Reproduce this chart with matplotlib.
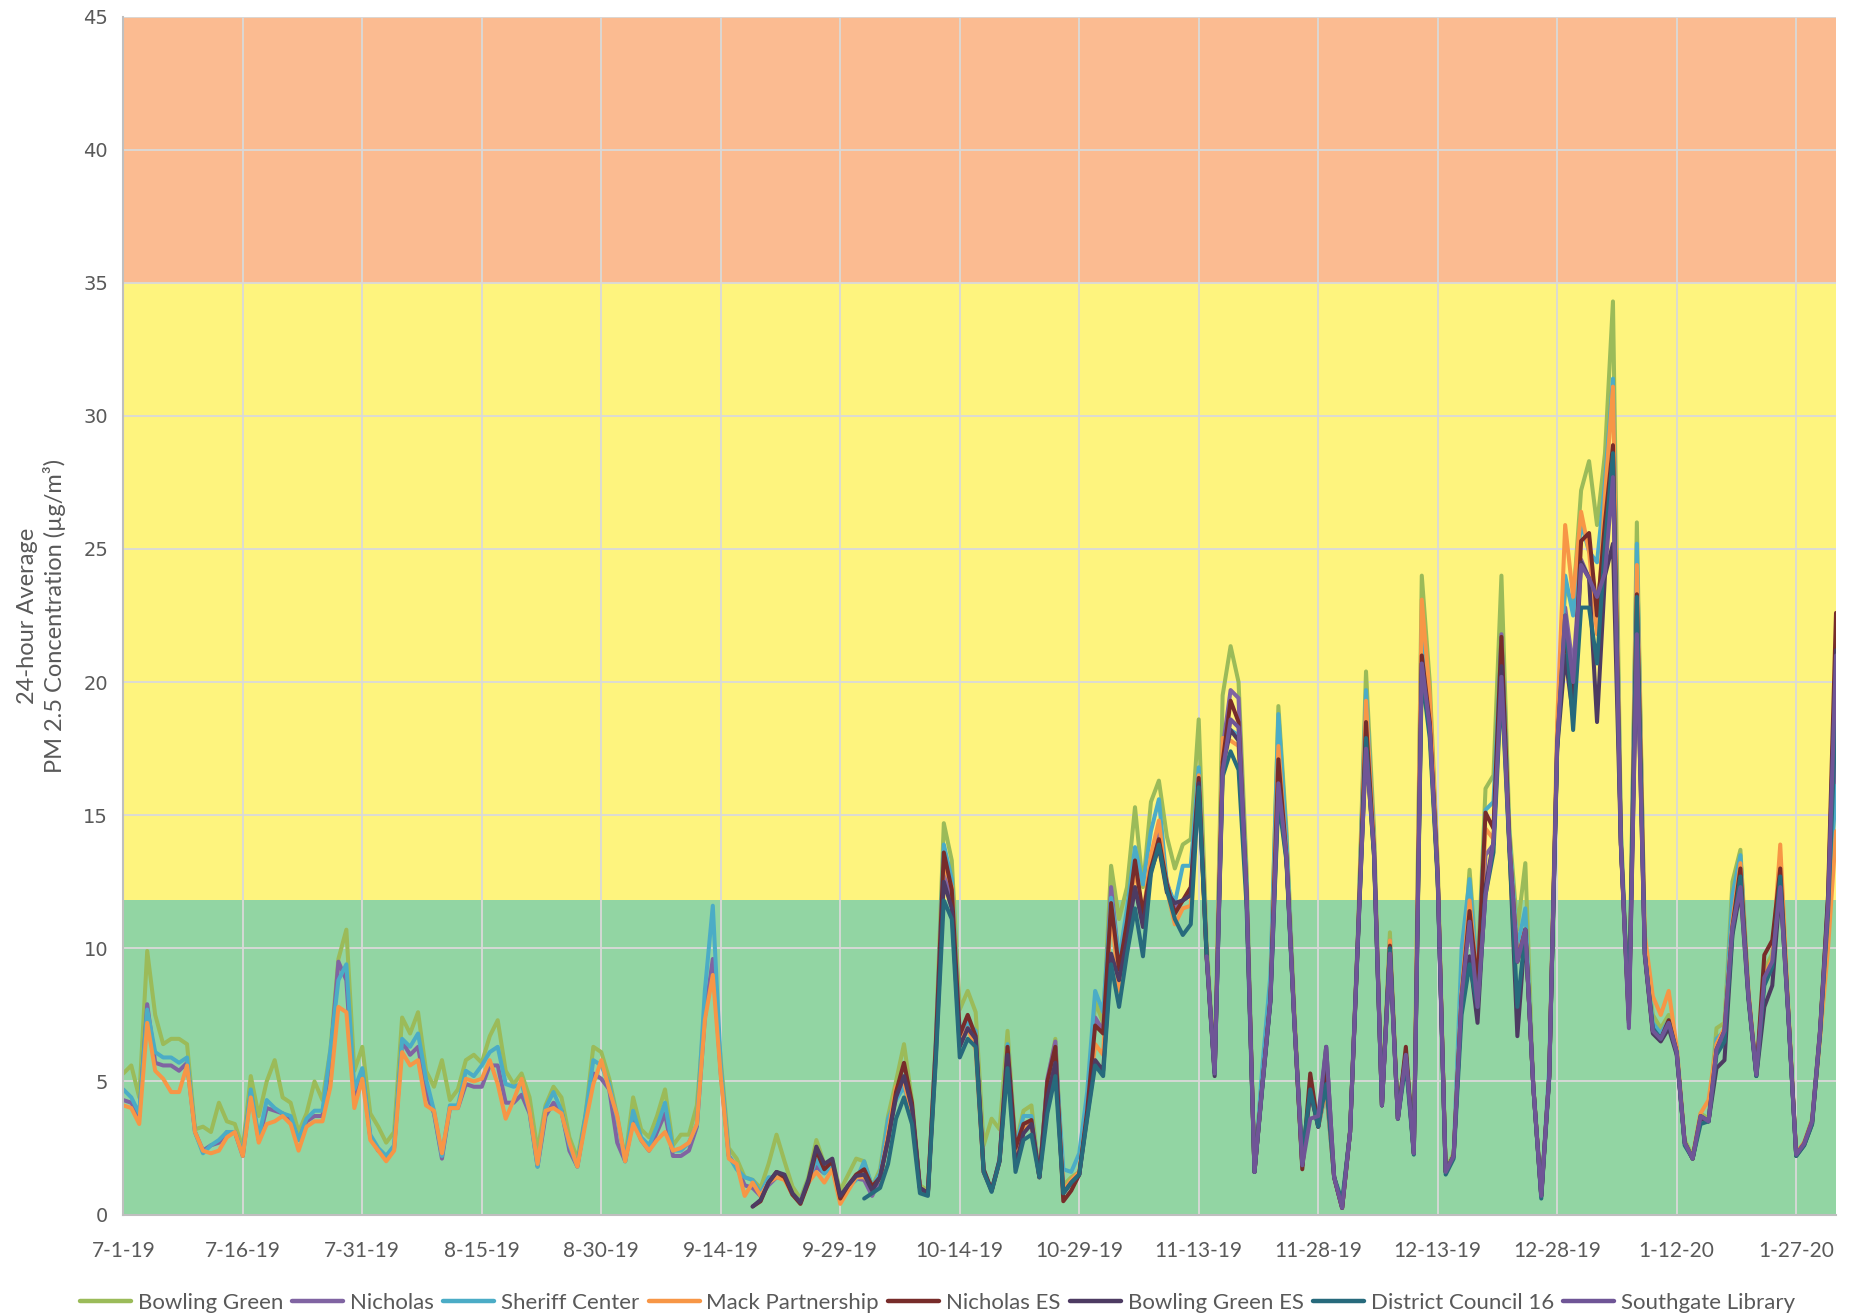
import numpy as np
import pandas as pd
import matplotlib
matplotlib.use("Agg")
import matplotlib.pyplot as plt
import matplotlib.dates as mdates
from matplotlib.ticker import FuncFormatter

# ---------------- data ----------------
start_date = "2019-07-01"
n_days = 216

bowling_green = [
    5.3, 5.6, 4.4, 9.9, 7.5, 6.4, 6.6, 6.6, 6.4, 3.2,
    3.3, 3.1, 4.2, 3.5, 3.4, 2.5, 5.2, 3.7, 5.0, 5.8,
    4.4, 4.2, 3.1, 3.8, 5.0, 4.3, 6.2, 9.6, 10.7, 5.4,
    6.3, 3.8, 3.3, 2.7, 3.1, 7.4, 6.8, 7.6, 5.4, 4.8,
    5.8, 4.3, 4.7, 5.8, 6.0, 5.7, 6.7, 7.3, 5.4, 4.9,
    5.3, 4.4, 2.4, 4.1, 4.8, 4.4, 2.9, 2.1, 3.7, 6.3,
    6.1, 5.1, 3.7, 2.1, 4.4, 3.2, 2.9, 3.7, 4.7, 2.6,
    3.0, 3.0, 4.1, 7.7, 9.2, 5.8, 2.5, 2.1, 1.4,
    1.3, 1.0, 1.9, 3.0, 2.0, 1.05, 0.6, 1.4, 2.8, 1.9, 2.05,
    0.9, 1.5, 2.1, 2.0, 1.05, 1.7, 3.7, 5.0, 6.4, 4.3,
    1.1, 0.9, 6.6, 14.7, 13.3, 7.7, 8.4, 7.6, 2.6, 3.6,
    3.2, 6.9, 2.6, 3.9, 4.1, 1.4, 5.0, 6.6, 1.1, 1.4,
    1.6, 3.9, 8.0, 7.2, 13.1, 11.1, 12.3, 15.3, 12.3, 15.5,
    16.3, 14.2, 13.0, 13.9, 14.1, 18.6, 10.2, 5.5, 19.5, 21.35,
    20.0, 13.0, 1.8, 5.3, 8.5, 19.1, 14.5, 7.8, 1.9, 4.8,
    3.3, 4.8, 1.4, 0.3, 3.2, 10.8, 20.4, 14.5, 4.2, 10.6,
    3.7, 6.1, 2.4, 24.0, 20.0, 13.2, 1.7, 2.3, 8.8, 12.95,
    9.0, 16.0, 16.5, 24.0, 14.5, 10.7, 13.2, 4.9, 0.8, 5.3,
    18.0, 23.5, 23.0, 27.2, 28.3, 25.9, 28.6, 34.3, 14.5, 7.3,
    26.0, 10.0, 7.5, 7.0, 7.5, 6.3, 2.8, 2.2, 3.8, 3.6,
    7.0, 7.2, 12.5, 13.7, 8.4, 5.3, 9.2, 9.8, 12.5, 7.7,
    2.3, 2.7, 3.6, 7.0, 11.5, 18.2,
]

nicholas = [
    4.3, 4.2, 3.7, 7.9, 5.7, 5.6, 5.6, 5.4, 5.7, 3.1,
    2.4, 2.6, 2.7, 3.1, 3.1, 2.2, 4.6, 2.8, 4.0, 3.9,
    3.8, 3.6, 2.8, 3.5, 3.7, 3.7, 5.9, 9.5, 8.8, 4.3,
    5.4, 2.9, 2.4, 2.2, 2.5, 6.5, 6.0, 6.3, 4.6, 3.8,
    2.1, 4.0, 4.0, 4.9, 4.8, 4.8, 5.6, 5.6, 4.2, 4.2,
    4.5, 3.8, 1.8, 3.7, 4.2, 3.9, 2.4, 1.8, 3.6, 5.3,
    5.1, 4.7, 2.7, 2.0, 3.6, 2.8, 2.4, 3.1, 3.8, 2.2,
    2.2, 2.4, 3.3, 7.4, 9.6, 5.3, 2.2, 1.8, 1.1,
    1.0, 0.7, 1.1, 1.4, 1.4, 0.75, 0.5, 1.2, 1.8, 1.55, 1.9,
    0.55, 1.05, 1.35, 1.3, 0.7, 1.3, 3.05, 4.4, 5.1, 4.0,
    1.0, 0.8, 6.3, 13.0, 11.8, 6.7, 7.0, 6.6, 1.6, 0.9,
    2.05, 6.3, 2.2, 3.1, 3.5, 1.4, 5.1, 6.5, 0.8, 1.2,
    1.5, 4.0, 7.4, 6.9, 12.3, 9.5, 11.2, 13.3, 11.0, 13.3,
    14.3, 12.5, 11.5, 11.8, 12.0, 16.5, 9.7, 5.35, 17.5, 19.7,
    19.4, 12.1, 1.6, 4.9, 8.1, 16.4, 13.5, 7.3, 1.85, 4.7,
    3.3, 4.7, 1.4, 0.25, 3.1, 10.5, 18.0, 13.7, 4.1, 9.9,
    3.6, 6.0, 2.3, 21.5, 18.6, 12.7, 1.6, 2.2, 8.2, 11.8,
    8.6, 13.5, 13.9, 21.8, 13.9, 9.5, 10.7, 4.8, 0.7, 5.2,
    17.7, 22.8, 20.5, 24.6, 23.9, 23.0, 25.0, 28.0, 13.9, 7.3,
    22.5, 9.8, 6.9, 6.6, 7.2, 6.1, 2.7, 2.1, 3.7, 3.5,
    6.2, 6.9, 10.8, 12.8, 8.25, 5.25, 8.9, 9.5, 12.4, 7.6,
    2.25, 2.66, 3.5, 6.9, 11.5, 17.9,
]

sheriff_center = [
    4.7, 4.4, 3.8, 7.7, 6.1, 5.9, 5.9, 5.7, 5.9, 3.1,
    2.3, 2.6, 2.8, 3.1, 3.1, 2.3, 4.7, 2.9, 4.3, 4.0,
    3.8, 3.7, 2.8, 3.6, 3.9, 3.9, 6.2, 8.8, 9.4, 4.7,
    5.5, 3.0, 2.5, 2.2, 2.6, 6.6, 6.3, 6.8, 5.1, 3.9,
    2.2, 4.1, 4.1, 5.4, 5.2, 5.6, 6.1, 6.3, 4.9, 4.8,
    4.9, 3.9, 1.8, 4.0, 4.6, 3.9, 2.6, 1.8, 3.7, 5.8,
    5.6, 4.9, 3.6, 2.0, 3.9, 2.9, 2.6, 3.3, 4.2, 2.4,
    2.4, 2.7, 3.4, 8.4, 11.6, 5.6, 2.2, 1.7, 1.4,
    1.3, 0.8, 1.4, 1.4, 1.4, 0.75, 0.5, 1.3, 2.05, 1.55, 1.8,
    0.5, 1.05, 1.3, 2.0, 1.05, 1.55, 3.6, 4.3, 4.8, 3.8,
    1.0, 0.8, 6.5, 13.9, 12.6, 6.9, 7.2, 6.9, 1.7, 0.9,
    2.1, 6.4, 2.5, 3.7, 3.7, 1.4, 4.8, 6.1, 1.7, 1.6,
    2.3, 4.6, 8.4, 7.6, 11.9, 9.6, 11.5, 13.8, 12.4, 14.4,
    15.6, 12.4, 11.7, 13.1, 13.1, 16.8, 9.8, 5.4, 17.8, 18.2,
    18.0, 12.5, 1.6, 5.6, 9.0, 18.8, 14.2, 7.3, 1.85, 4.7,
    3.3, 4.7, 1.4, 0.25, 3.1, 10.6, 19.7, 14.0, 4.1, 10.3,
    3.6, 6.0, 2.3, 22.0, 19.0, 12.7, 1.6, 2.2, 10.0, 12.6,
    8.8, 15.2, 15.5, 21.5, 14.2, 10.0, 11.5, 4.8, 0.7, 5.5,
    17.8, 24.0, 22.5, 26.0, 24.9, 24.5, 27.5, 31.4, 14.2, 7.3,
    25.2, 9.9, 7.2, 6.8, 7.3, 6.2, 2.7, 2.1, 3.7, 3.5,
    6.6, 6.9, 12.0, 13.5, 8.3, 5.25, 8.9, 9.5, 12.6, 7.6,
    2.25, 2.66, 3.5, 6.9, 11.2, 16.1,
]

mack_partnership = [
    4.1, 4.0, 3.4, 7.2, 5.4, 5.1, 4.6, 4.6, 5.6, 3.1,
    2.4, 2.3, 2.4, 2.9, 3.1, 2.2, 4.4, 2.7, 3.4, 3.5,
    3.7, 3.4, 2.4, 3.3, 3.5, 3.5, 4.8, 7.8, 7.6, 4.0,
    5.1, 2.8, 2.4, 2.0, 2.4, 6.1, 5.6, 5.8, 4.1, 3.9,
    2.3, 4.0, 4.0, 5.1, 5.0, 5.1, 5.8, 4.9, 3.6, 4.3,
    5.1, 3.9, 1.9, 3.9, 4.0, 3.8, 2.7, 1.8, 3.4, 4.9,
    5.8, 4.7, 3.7, 2.0, 3.4, 2.8, 2.4, 2.8, 3.1, 2.4,
    2.5, 2.7, 3.4, 7.3, 9.0, 5.2, 2.1, 1.9, 0.7,
    1.2, 0.7, 1.2, 1.4, 1.3, 0.75, 0.45, 1.2, 1.6, 1.2, 1.7,
    0.4, 0.9, 1.4, 1.4, 1.1, 1.3, 3.05, 4.8, 5.0, 3.7,
    1.0, 0.8, 6.2, 13.2, 12.3, 6.5, 7.0, 6.2, 1.6, 0.9,
    2.0, 6.2, 2.2, 3.2, 3.4, 1.4, 4.6, 5.9, 0.9, 1.3,
    1.6, 3.8, 6.4, 6.0, 11.5, 8.4, 10.8, 13.0, 11.2, 13.5,
    14.8, 12.2, 10.9, 11.5, 11.6, 16.5, 9.7, 5.35, 17.9, 17.8,
    17.6, 12.1, 1.6, 4.9, 8.1, 17.6, 13.5, 7.3, 1.85, 4.7,
    3.3, 4.7, 1.4, 0.25, 3.1, 10.5, 19.3, 13.9, 4.1, 10.3,
    3.6, 6.0, 2.3, 23.1, 19.5, 12.9, 1.6, 2.2, 8.4, 11.8,
    8.6, 14.5, 14.1, 21.0, 13.9, 9.6, 10.7, 4.8, 0.7, 5.2,
    18.5, 25.9, 23.2, 26.4, 24.9, 21.8, 27.0, 31.1, 14.0, 7.3,
    24.4, 10.5, 8.2, 7.5, 8.4, 6.3, 2.7, 2.1, 3.8, 4.3,
    6.4, 7.0, 11.0, 13.2, 8.4, 5.3, 9.0, 9.6, 13.9, 7.8,
    2.3, 2.7, 3.5, 6.6, 10.0, 14.4,
]

nicholas_es = [None] * 79 + [
    0.3, 0.5, 1.2, 1.6, 1.4, 0.75, 0.4, 1.2, 2.4, 1.7, 2.0,
    0.6, 1.1, 1.5, 1.7, 1.05, 1.4, 2.8, 4.6, 5.7, 4.2,
    1.0, 0.8, 6.4, 13.6, 12.2, 6.75, 7.5, 6.7, 1.7, 0.9,
    2.05, 6.3, 2.5, 3.4, 3.55, 1.4, 5.0, 6.3, 0.5, 0.9,
    1.5, 3.9, 7.1, 6.8, 11.7, 9.2, 11.0, 13.3, 11.3, 13.0,
    14.1, 12.4, 11.3, 11.8, 12.3, 16.4, 9.7, 5.35, 17.0, 19.3,
    18.5, 12.1, 1.6, 4.9, 8.1, 17.1, 13.5, 7.3, 1.7, 5.3,
    3.3, 5.3, 1.4, 0.25, 3.1, 10.5, 18.5, 13.7, 4.1, 10.1,
    3.6, 6.3, 2.3, 21.0, 18.5, 12.7, 1.6, 2.2, 8.2, 11.4,
    8.6, 15.1, 14.5, 21.7, 13.9, 9.5, 10.7, 4.8, 0.7, 5.2,
    17.7, 22.0, 19.0, 25.3, 25.6, 22.5, 26.0, 28.9, 13.9, 7.3,
    23.3, 9.8, 6.9, 6.6, 7.3, 6.1, 2.7, 2.1, 3.7, 3.5,
    6.2, 6.9, 10.8, 13.0, 8.25, 5.25, 9.75, 10.3, 13.0, 7.6,
    2.25, 2.66, 3.5, 6.9, 12.0, 22.6,
]

bowling_green_es = [None] * 79 + [
    0.3, 0.55, 1.2, 1.6, 1.5, 0.8, 0.45, 1.3, 2.55, 1.9, 2.1,
    0.7, 1.1, 1.45, 1.5, 0.9, 1.4, 2.8, 4.4, 5.2, 4.0,
    1.0, 0.8, 6.0, 12.5, 11.5, 6.3, 7.0, 6.6, 1.6, 0.9,
    2.0, 6.0, 1.8, 3.05, 3.4, 1.4, 4.4, 5.7, 0.8, 1.2,
    1.5, 3.7, 5.8, 5.4, 9.8, 8.8, 10.3, 12.3, 10.8, 12.9,
    13.8, 12.1, 11.7, 11.8, 12.0, 16.2, 9.6, 5.2, 16.8, 18.2,
    17.8, 12.0, 1.6, 4.9, 8.0, 16.0, 13.4, 7.3, 1.85, 4.6,
    3.3, 6.3, 1.4, 0.25, 3.1, 10.4, 17.6, 13.5, 4.1, 10.0,
    3.6, 6.0, 2.3, 20.7, 18.3, 12.6, 1.6, 2.2, 8.0, 9.7,
    7.2, 12.3, 14.0, 20.6, 13.8, 6.7, 10.7, 4.8, 0.7, 5.2,
    17.5, 21.0, 18.7, 24.5, 23.9, 18.5, 24.0, 25.2, 13.8, 7.2,
    22.0, 9.7, 6.8, 6.5, 7.0, 6.0, 2.7, 2.1, 3.6, 3.5,
    5.5, 5.8, 10.5, 12.2, 8.1, 5.2, 7.8, 8.6, 12.3, 7.5,
    2.2, 2.6, 3.4, 6.8, 11.8, 21.2,
]

district_council_16 = [None] * 93 + [
    0.6, 0.8, 1.0, 1.9, 3.6, 4.4, 3.4,
    0.8, 0.7, 5.8, 11.8, 11.1, 5.9, 6.6, 6.3, 1.6, 0.85,
    2.0, 5.5, 1.6, 2.8, 3.0, 1.4, 3.8, 5.2, 0.8, 1.2,
    1.5, 3.6, 5.6, 5.2, 9.4, 7.8, 9.8, 11.5, 9.7, 12.8,
    13.9, 12.2, 11.1, 10.5, 10.9, 16.05, 9.7, 5.3, 16.45, 17.4,
    16.7, 11.6, 1.6, 4.8, 8.0, 15.6, 13.3, 7.2, 2.2, 4.7,
    3.3, 4.9, 1.4, 0.5, 3.1, 10.4, 17.9, 13.5, 4.1, 10.0,
    3.6, 5.7, 2.25, 20.3, 17.9, 12.5, 1.5, 2.1, 7.5, 9.4,
    7.8, 12.0, 13.6, 19.9, 13.7, 7.8, 10.6, 4.8, 0.6, 5.1,
    17.5, 22.5, 18.2, 22.8, 22.8, 20.7, 25.2, 28.6, 13.9, 7.5,
    23.2, 9.8, 7.0, 6.6, 7.2, 6.1, 2.6, 2.1, 3.4, 3.5,
    6.0, 6.5, 10.6, 12.7, 8.2, 5.2, 8.6, 9.3, 12.7, 7.6,
    2.2, 2.6, 3.4, 6.8, 11.3, 18.9,
]

southgate_library = [None] * 136 + [
    9.7, 5.3, 16.6, 18.6,
    18.3, 12.1, 1.6, 4.9, 8.1, 16.2, 13.5, 7.3, 1.85, 3.6,
    3.7, 6.3, 1.4, 0.25, 3.1, 10.5, 17.5, 13.7, 4.1, 9.8,
    3.6, 6.0, 2.3, 20.7, 18.3, 12.7, 1.6, 2.2, 8.2, 11.0,
    7.8, 12.0, 14.0, 20.2, 13.9, 9.5, 10.7, 4.8, 0.7, 5.2,
    17.7, 22.5, 20.0, 24.4, 23.9, 23.2, 24.1, 27.7, 13.9, 7.0,
    21.8, 9.8, 6.9, 6.6, 7.2, 6.1, 2.7, 2.1, 3.7, 3.5,
    6.2, 6.9, 10.8, 12.3, 8.25, 5.25, 8.9, 9.5, 12.3, 7.6,
    2.25, 2.66, 3.5, 6.9, 11.6, 21.0,
]

series_names = ["Bowling Green", "Nicholas", "Sheriff Center", "Mack Partnership",
                "Nicholas ES", "Bowling Green ES", "District Council 16", "Southgate Library"]
series_values = [bowling_green, nicholas, sheriff_center, mack_partnership,
                 nicholas_es, bowling_green_es, district_council_16, southgate_library]
series_colors = ["#9BBB59", "#8064A2", "#4BACC6", "#F79646",
                 "#772C2A", "#4D3B62", "#276A7C", "#6F5596"]

# AQI bands (lower, upper)
band_limits = [(0, 11.8), (11.8, 35), (35, 45)]
band_colors = ["#92D5A3", "#FEF47E", "#FBBB91"]

y_ticks = [0, 5, 10, 15, 20, 25, 30, 35, 40, 45]

# ---------------- plot ----------------
dates = pd.date_range(start_date, periods=n_days, freq="D")

fig = plt.figure(figsize=(18.6, 13.15), dpi=100)
ax = fig.add_axes([0.0663, 0.0764, 0.9208, 0.911])

for (lo, hi), c in zip(band_limits, band_colors):
    ax.axhspan(lo, hi, color=c, zorder=0, lw=0)

tick_dates = dates[::15]
for t in y_ticks[1:]:
    ax.axhline(t, color="#D9D9D9", lw=1.3, zorder=1)
for d in tick_dates[1:]:
    ax.axvline(d, color="#D9D9D9", lw=1.3, zorder=1)

handles = []
for name, vals, col in zip(series_names, series_values, series_colors):
    arr = np.array([np.nan if v is None else v for v in vals], dtype=float)
    h, = ax.plot(dates, arr, color=col, lw=2.9, label=name, zorder=3,
                 solid_joinstyle="round", solid_capstyle="round")
    handles.append(h)

ax.set_xlim(dates[0], dates[-1])
ax.set_ylim(0, 45)
ax.set_yticks(y_ticks)
ax.set_xticks(tick_dates)
ax.xaxis.set_major_formatter(FuncFormatter(
    lambda x, pos: (lambda d: f"{d.month}-{d.day}-{d.year % 100}")(mdates.num2date(x))))

ax.tick_params(axis="both", length=0, colors="#595959")
ax.tick_params(axis="y", pad=11, labelsize=14)
ax.tick_params(axis="x", pad=19, labelsize=15)
for lab in ax.get_yticklabels():
    lab.set_fontfamily("DejaVu Sans")
for lab in ax.get_xticklabels():
    lab.set_fontfamily("Lato")

for s in ["top", "right"]:
    ax.spines[s].set_visible(False)
for s in ["left", "bottom"]:
    ax.spines[s].set_color("#BFBFBF")
    ax.spines[s].set_linewidth(1.5)
    ax.spines[s].set_zorder(4)

ax.set_ylabel("24-hour Average\nPM 2.5 Concentration (µg/m³)", fontsize=17,
              color="#595959", family="Lato", labelpad=12, linespacing=1.3)

leg = fig.legend(handles, series_names, loc="center", ncol=8, frameon=False,
                 bbox_to_anchor=(0.504, 0.0095), handlelength=2.3,
                 handletextpad=0.3, columnspacing=0.42, borderaxespad=0,
                 prop={"family": "Lato", "size": 16})
for t in leg.get_texts():
    t.set_color("#595959")
for l in leg.get_lines():
    l.set_linewidth(3.2)

fig.savefig("out.png", dpi=100)
